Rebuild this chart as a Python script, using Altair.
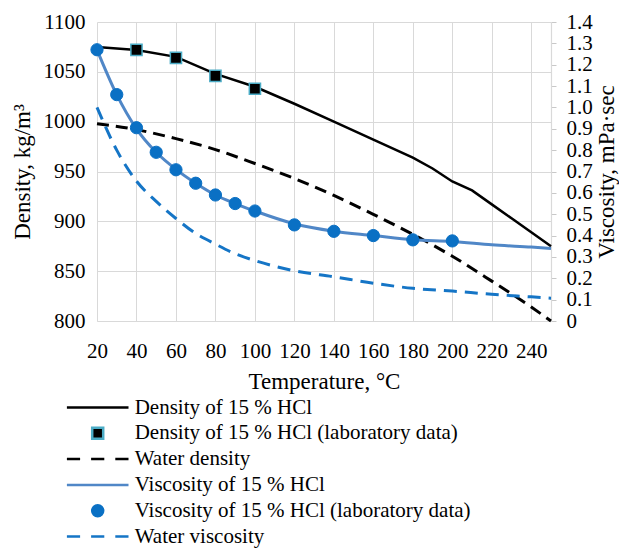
import altair as alt
import pandas as pd

# ---------------- data ----------------
T_dens = [20, 40, 60, 80, 100, 120, 140, 160, 180, 190, 200, 210, 220, 230, 240, 250]
dens_hcl = [1075, 1072, 1065, 1048, 1035, 1018, 1000, 982, 964, 953, 940, 931, 917, 903, 889, 875]

T_dens_lab = [40, 60, 80, 100]
dens_lab = [1072, 1064, 1046, 1033]

T_water = [20, 40, 60, 80, 100, 120, 140, 160, 180, 200, 220, 240, 250]
dens_water = [998, 992, 983, 972, 958, 943, 926, 907, 887, 865, 840, 814, 800]

T_visc = [20, 30, 40, 50, 60, 70, 80, 90, 100, 120, 140, 160, 180, 200, 220, 240, 250]
visc_hcl = [1.27, 1.06, 0.90, 0.79, 0.71, 0.645, 0.59, 0.55, 0.515, 0.455, 0.42, 0.40, 0.38, 0.372, 0.357, 0.346, 0.34]

T_visc_lab = [20, 30, 40, 50, 60, 70, 80, 90, 100, 120, 140, 160, 180, 200]
visc_lab = [1.27, 1.06, 0.905, 0.79, 0.708, 0.645, 0.59, 0.55, 0.515, 0.45, 0.42, 0.40, 0.38, 0.375]

T_wvisc = [20, 30, 40, 50, 60, 70, 80, 90, 100, 120, 140, 160, 180, 200, 220, 240, 250]
visc_water = [1.0, 0.80, 0.655, 0.56, 0.48, 0.41, 0.36, 0.315, 0.283, 0.235, 0.207, 0.177, 0.153, 0.14, 0.125, 0.113, 0.107]

series_names = [
    "Density of 15 % HCl",
    "Density of 15 % HCl (laboratory data)",
    "Water density",
    "Viscosity of 15 % HCl",
    "Viscosity of 15 % HCl (laboratory data)",
    "Water viscosity",
]

x_ticks = [20, 40, 60, 80, 100, 120, 140, 160, 180, 200, 220, 240]
dens_ticks = [800, 850, 900, 950, 1000, 1050, 1100]
visc_ticks = [0, 0.1, 0.2, 0.3, 0.4, 0.5, 0.6, 0.7, 0.8, 0.9, 1.0, 1.1, 1.2, 1.3, 1.4]

# ---------------- styles ----------------
FONT = "Liberation Serif, 'Times New Roman', 'DejaVu Serif', serif"
BLACK = "#000000"
CYAN = "#4bacc6"
VLINE = "#5087c7"
VDOT = "#0a70c4"
VWATER = "#1575c6"
GRID = "#d9d9d9"

LINE_PATH = "M-5.6,0H5.6"
DASH_PATH = "M-5.6,0H-3.2M-1.2,0H1.2M3.2,0H5.6"

fill_range = ["transparent", BLACK, "transparent", "transparent", VDOT, "transparent"]
stroke_range = [BLACK, CYAN, BLACK, VLINE, VDOT, VWATER]
shape_range = [LINE_PATH, "square", DASH_PATH, LINE_PATH, "circle", DASH_PATH]

legend = alt.Legend(
    title=None, orient="none", legendX=-9.8, legendY=375,
    symbolSize=121, symbolStrokeWidth=2.5, symbolOpacity=1,
    labelFont=FONT, labelFontSize=21, labelColor="black",
    labelOffset=26.5, rowPadding=3.8, padding=0, labelLimit=500,
)

x_enc = alt.X(
    "T:Q",
    scale=alt.Scale(domain=[20, 250], nice=False, zero=False),
    axis=alt.Axis(values=x_ticks, title="Temperature, °C", grid=True, ticks=False,
                  tickSize=0, labelPadding=19, titlePadding=9, domain=True,
                  labelFlush=False, labelOverlap=False),
)

yd_scale = alt.Scale(domain=[800, 1100], nice=False, zero=False)
yv_scale = alt.Scale(domain=[0, 1.4], nice=False, zero=False)

yd_axis = alt.Axis(values=dens_ticks, format="d", title="Density, kg/m³", grid=True, ticks=False,
                   tickSize=0, domain=False, labelPadding=12,
                   titleAngle=270, titleBaseline="alphabetic", titleAlign="center",
                   titleX=-67.5, titleY=149.5)
yv_axis = alt.Axis(orient="right", values=visc_ticks, title="Viscosity, mPa·sec", grid=False,
                   ticks=True, tickSize=5, domain=True, labelPadding=10,
                   titleAngle=270, titleBaseline="alphabetic", titleAlign="center",
                   titleX=62, titleY=149.5,
                   labelFlush=False, labelOverlap=False,
                   labelExpr="datum.value == 0 ? '0' : format(datum.value, '.1f')")


def legend_encoding():
    return dict(
        fill=alt.Fill("series:N", scale=alt.Scale(domain=series_names, range=fill_range), legend=legend),
        stroke=alt.Stroke("series:N", scale=alt.Scale(domain=series_names, range=stroke_range), legend=legend),
        shape=alt.Shape("series:N", scale=alt.Scale(domain=series_names, range=shape_range), legend=legend),
    )


df_dens = pd.DataFrame({"T": T_dens, "d": dens_hcl})
df_dens_lab = pd.DataFrame({"T": T_dens_lab, "d": dens_lab, "series": series_names[1]})
df_water = pd.DataFrame({"T": T_water, "d": dens_water})
df_visc = pd.DataFrame({"T": T_visc, "v": visc_hcl})
df_visc_lab = pd.DataFrame({"T": T_visc_lab, "v": visc_lab, "series": series_names[4]})
df_wvisc = pd.DataFrame({"T": T_wvisc, "v": visc_water})

line_dens = alt.Chart(df_dens).mark_line(color=BLACK, strokeWidth=2.5).encode(
    x=x_enc, y=alt.Y("d:Q", scale=yd_scale, axis=yd_axis))
line_water = alt.Chart(df_water).mark_line(color=BLACK, strokeWidth=3, strokeDash=[12, 7],
                                           interpolate="monotone").encode(
    x=x_enc, y=alt.Y("d:Q", scale=yd_scale, axis=yd_axis))
pts_dens = alt.Chart(df_dens_lab).mark_point(filled=True, size=125, strokeWidth=1.5, opacity=1).encode(
    x=x_enc, y=alt.Y("d:Q", scale=yd_scale, axis=yd_axis), **legend_encoding())

line_visc = alt.Chart(df_visc).mark_line(color=VLINE, strokeWidth=3, interpolate="monotone").encode(
    x=x_enc, y=alt.Y("v:Q", scale=yv_scale, axis=yv_axis))
line_wvisc = alt.Chart(df_wvisc).mark_line(color=VWATER, strokeWidth=3, strokeDash=[13, 8],
                                           interpolate="monotone").encode(
    x=x_enc, y=alt.Y("v:Q", scale=yv_scale, axis=yv_axis))
pts_visc = alt.Chart(df_visc_lab).mark_point(filled=True, size=150, strokeWidth=1, opacity=1).encode(
    x=x_enc, y=alt.Y("v:Q", scale=yv_scale, axis=yv_axis), **legend_encoding())

dens_group = alt.layer(line_dens, line_water, pts_dens)
visc_group = alt.layer(line_visc, line_wvisc, pts_visc)

chart = (
    alt.layer(dens_group, visc_group)
    .resolve_scale(y="independent")
    .properties(
        width=454, height=299,
        padding={"left": 89, "top": 14, "right": 68, "bottom": 228},
        autosize=alt.AutoSizeParams(type="none"),
    )
    .configure_axis(
        labelFont=FONT, titleFont=FONT, labelFontSize=21, titleFontSize=23,
        labelColor="black", titleColor="black", titleFontWeight="normal",
        gridColor=GRID, gridWidth=1, domainColor=GRID, domainWidth=1.2, tickColor="#c8c8c8",
    )
    .configure_view(stroke=None)
)

chart.save("out.html", embed_options={"renderer": "svg", "actions": False})
